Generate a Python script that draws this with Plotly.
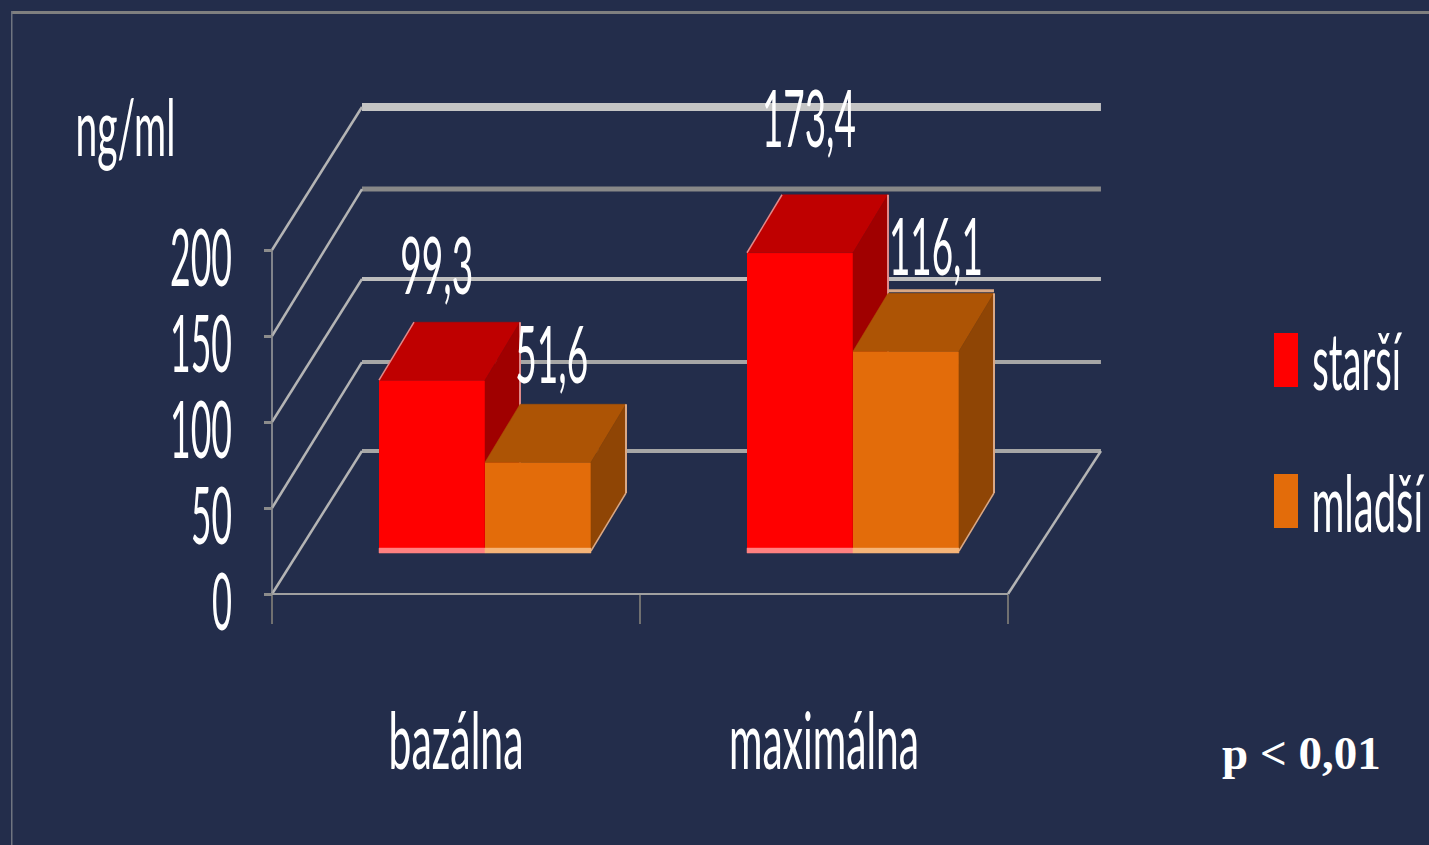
import plotly.graph_objects as go

# ---- data ----
categories = ["bazálna", "maximálna"]
series_names = ["starší", "mladší"]
stars_values = [99.3, 173.4]
mladsi_values = [51.6, 116.1]
value_labels_s = ["99,3", "173,4"]
value_labels_m = ["51,6", "116,1"]
y_ticks = [0, 50, 100, 150, 200]
y_tick_text = ["0", "50", "100", "150", "200"]

# ---- look ----
W, H = 1429, 845
BG = "#232D4B"
FONT = "Lato"
FS = 80
RED = dict(front="#FF0000", top="#BF0000", side="#A00000", strip="#FF8080", edge="#E08A8A")
ORG = dict(front="#E36C0A", top="#AD5405", side="#8F4505", strip="#F5B478", edge="#D9A886")
PX_X, PX_Y = 368.0, 1.72          # pixels per category, pixels per unit
X0_PX, Y0_PX = 272.0, 594.0
WALL_DX, WALL_DY = 90 / PX_X, 143 / PX_Y
BAR_DX, BAR_DY = 35 / PX_X, 58 / PX_Y
BAR_W = 0.288
BAR_BASE = 25.0
BAR_SHIFT = 0.0788
GRID_STYLE = {0: (4, "#A6A6A6"), 50: (4, "#A6A6A6"), 100: (4, "#BDBDBD"), 150: (5, "#888888"), 200: (8, "#C4C4C4")}
GRID_NUDGE = {0: 0, 50: 1.7, 100: 0, 150: 2.3, 200: 0}   # raster rounding of the back wall in the reference
WALL_END = 2.0
WALL_OVER = 0.008

def wall(x0, y0, x1, y1, color, width):
    return dict(type="line", xref="x", yref="y", x0=x0, y0=y0, x1=x1, y1=y1,
                line=dict(color=color, width=width), layer="below")

def line(xs, ys, color, width, xaxis):
    return go.Scatter(x=xs, y=ys, mode="lines", line=dict(color=color, width=width),
                      xaxis=xaxis, hoverinfo="skip", showlegend=False)

def poly(xs, ys, color, xaxis):
    return go.Scatter(x=xs + xs[:1], y=ys + ys[:1], mode="lines", fill="toself", fillcolor=color,
                      line=dict(color=color, width=0.5), xaxis=xaxis, hoverinfo="skip", showlegend=False)

shapes = []
for t in y_ticks:
    w, c = GRID_STYLE[t]
    back = t + WALL_DY + GRID_NUDGE[t]
    shapes.append(wall(WALL_DX, back, WALL_END + WALL_DX + WALL_OVER, back, c, w))
    shapes.append(wall(0, t, WALL_DX, back, "#B4B4B4", 2.5))
shapes.append(wall(WALL_END, 0, WALL_END + WALL_DX + WALL_OVER, WALL_DY, "#B4B4B4", 2.5))
shapes.append(wall(0, 0, WALL_END, 0, "#A0A0A0", 2))
shapes.append(wall(0, 0, 0, y_ticks[-1], "#A0A0A0", 1.5))

fig = go.Figure()

# Each series sits on its own x axis so the younger group paints over the older group's side faces.
for k, (name, vals, st, ax) in enumerate(zip(series_names, [stars_values, mladsi_values], [RED, ORG], ["x", "x2"])):
    xs = [i + BAR_SHIFT + 0.5 + (k - 0.5) * BAR_W for i in range(len(categories))]
    fig.add_trace(go.Bar(x=xs, y=vals, base=BAR_BASE, width=BAR_W, name=name, xaxis=ax,
                         marker=dict(color=st["front"], line=dict(width=0)), showlegend=False))
    for i, v in enumerate(vals):
        left = i + BAR_SHIFT + 0.5 + (k - 1) * BAR_W
        right = left + BAR_W
        top = BAR_BASE + v
        fig.add_trace(poly([left, left + BAR_DX, right + BAR_DX, right],
                           [top, top + BAR_DY, top + BAR_DY, top], st["top"], ax))
        fig.add_trace(poly([right, right + BAR_DX, right + BAR_DX, right],
                           [top, top + BAR_DY, BAR_BASE + BAR_DY, BAR_BASE], st["side"], ax))
        fig.add_trace(line([right + BAR_DX, right + BAR_DX], [top + BAR_DY, BAR_BASE + BAR_DY], st["edge"], 2, ax))
        fig.add_trace(line([right, right + BAR_DX], [BAR_BASE, BAR_BASE + BAR_DY], st["edge"], 1.5, ax))
        if k == 0:
            fig.add_trace(line([left, left + BAR_DX], [top, top + BAR_DY], st["edge"], 1.5, ax))
        if k == 1 and i == 1:
            fig.add_trace(line([left + BAR_DX, right + BAR_DX], [top + BAR_DY + 1.5] * 2, st["edge"], 3, ax))
        fig.add_trace(poly([left, right, right, left],
                           [BAR_BASE + 1.7, BAR_BASE + 1.7, BAR_BASE - 1.2, BAR_BASE - 1.2], st["strip"], ax))

def ann(text, cx, cy, font=FONT, size=FS):
    return dict(text=text, x=cx / W, y=1 - cy / H, xref="paper", yref="paper", showarrow=False,
                xanchor="center", yanchor="middle", font=dict(family=font, size=size, color="white"))

annotations = [
    ann("ng/ml", 125, 125),
    ann(value_labels_s[0], 436, 263),
    ann(value_labels_m[0], 551, 352),
    ann(value_labels_s[1], 809, 116),
    ann(value_labels_m[1], 936, 244),
    ann(series_names[0], 1357, 359),
    ann(series_names[1], 1368, 501),
    ann("<b>p &lt; 0,01</b>", 1301, 753, "Liberation Serif", 47),
]

def rect(x0, y0, x1, y1, color):
    return dict(type="rect", xref="paper", yref="paper", x0=x0 / W, x1=x1 / W,
                y0=1 - y0 / H, y1=1 - y1 / H, fillcolor=color, line=dict(width=0), layer="above")

shapes += [
    rect(11, 11, W, 14, "#7F7F7F"),
    rect(11, 11, 12.5, H, "#6F7480"),
    rect(1274, 333, 1298, 387, RED["front"]),
    rect(1274, 474, 1298, 528, ORG["front"]),
]

x_range = [-X0_PX / PX_X, (W - X0_PX) / PX_X]
y_range = [(Y0_PX - H) / PX_Y, Y0_PX / PX_Y]

fig.update_layout(
    width=W, height=H, autosize=False, margin=dict(l=0, r=0, t=0, b=0),
    paper_bgcolor=BG, plot_bgcolor=BG, barmode="overlay", showlegend=False,
    font=dict(family=FONT, color="white", size=FS),
    annotations=annotations, shapes=shapes,
    xaxis=dict(range=x_range, domain=[0, 1], anchor="free", position=(H - Y0_PX) / H,
               tickmode="array", tickvals=[0, 1, 2], ticktext=["", "", ""],
               ticks="outside", ticklen=29, tickwidth=2, tickcolor="#707070",
               showgrid=False, zeroline=False, showline=False, fixedrange=True),
    xaxis2=dict(range=x_range, overlaying="x", anchor="free", position=(H - 688) / H, side="bottom",
                tickmode="array", tickvals=[0.5, 1.5], ticktext=categories,
                tickfont=dict(family=FONT, size=FS, color="white"), ticks="",
                showgrid=False, zeroline=False, showline=False, fixedrange=True),
    yaxis=dict(range=y_range, domain=[0, 1], anchor="free", position=X0_PX / W,
               tickmode="array", tickvals=y_ticks, ticktext=y_tick_text,
               tickfont=dict(family=FONT, size=FS, color="white"),
               ticks="outside", ticklen=8, tickwidth=3, tickcolor="#8C8C8C",
               ticklabelstandoff=16, ticklabelshift=8,
               showgrid=False, zeroline=False, showline=False, fixedrange=True),
)

# Remove the page margin, then narrow the real text elements to the condensed widths of the reference.
post = """
document.documentElement.style.background = '#232D4B';
document.body.style.margin = '0';
document.body.style.overflow = 'hidden';
var gd = document.getElementById('{plot_id}');
var widths = {"200":62,"150":62,"100":62,"50":41,"0":20,"ng/ml":100,"99,3":73,"51,6":73,
  "173,4":94,"116,1":94,"bazálna":135,"maximálna":190,"starší":90,"mladší":113};
function squeeze(){
  gd.querySelectorAll('svg text').forEach(function(el){
    var w = widths[el.textContent];
    if(!w || el.getAttribute('data-sq')) return;
    var b = el.getBBox(); if(!b.width) return;
    var isY = el.closest('.ytick') !== null;
    var ox = isY ? b.x + b.width : b.x + b.width / 2;
    var t = el.getAttribute('transform') || '';
    el.setAttribute('transform', t + ' translate(' + ox + ',0) scale(' + (w / b.width) + ',1) translate(' + (-ox) + ',0)');
    el.setAttribute('data-sq', '1');
  });
}
squeeze();
setTimeout(squeeze, 50);
if(gd.on) gd.on('plotly_afterplot', squeeze);
"""
fig.write_html("out.html", post_script=post, config=dict(displayModeBar=False, responsive=False))
